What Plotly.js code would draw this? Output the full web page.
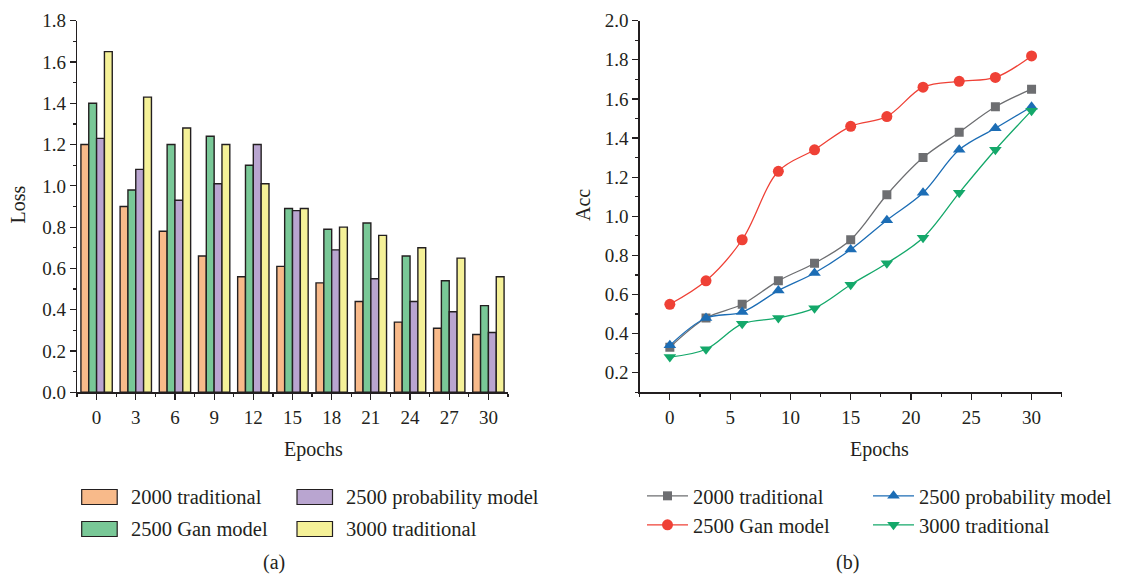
<!DOCTYPE html>
<html>
<head>
<meta charset="utf-8">
<script src="https://cdn.plot.ly/plotly-3.0.1.min.js"></script>
<style>html,body{margin:0;padding:0;background:#fff;}#chart{width:1132px;height:576px;}</style>
</head>
<body>
<div id="chart"></div>
<script>
// ---- data ----
const epochs = [0, 3, 6, 9, 12, 15, 18, 21, 24, 27, 30];
const seriesNames = ["2000 traditional", "2500 Gan model", "2500 probability model", "3000 traditional"];
// (a) Loss
const loss2000Trad = [1.20, 0.90, 0.78, 0.66, 0.56, 0.61, 0.53, 0.44, 0.34, 0.31, 0.28];
const loss2500Gan  = [1.40, 0.98, 1.20, 1.24, 1.10, 0.89, 0.79, 0.82, 0.66, 0.54, 0.42];
const loss2500Prob = [1.23, 1.08, 0.93, 1.01, 1.20, 0.88, 0.69, 0.55, 0.44, 0.39, 0.29];
const loss3000Trad = [1.65, 1.43, 1.28, 1.20, 1.01, 0.89, 0.80, 0.76, 0.70, 0.65, 0.56];
// (b) Acc
const acc2000Trad = [0.33, 0.48, 0.55, 0.67, 0.76, 0.88, 1.11, 1.30, 1.43, 1.56, 1.65];
const acc2500Gan  = [0.55, 0.67, 0.88, 1.23, 1.34, 1.46, 1.51, 1.66, 1.69, 1.71, 1.82];
const acc2500Prob = [0.34, 0.48, 0.51, 0.62, 0.71, 0.83, 0.98, 1.12, 1.34, 1.45, 1.56];
const acc3000Trad = [0.28, 0.32, 0.45, 0.48, 0.53, 0.65, 0.76, 0.89, 1.12, 1.34, 1.54];
const lossTicks = [0, 3, 6, 9, 12, 15, 18, 21, 24, 27, 30];
const accTicks = [0, 5, 10, 15, 20, 25, 30];

// ---- style ----
const W = 1132, H = 576;
const FONT = "Liberation Serif, Times New Roman, serif";
const TXT = "#231f20";
const barColors = ["#f8ba8a", "#79c897", "#b9a5d0", "#f5f198"];
const lineColors = ["#6d6e71", "#ef4136", "#1c6db5", "#14a86a"];
const symbols = ["square", "circle", "triangle-up", "triangle-down"];
const msizes = [9, 11, 11, 11];
const px = v => v / W;
const py = v => 1 - v / H;

const lossData = [loss2000Trad, loss2500Gan, loss2500Prob, loss3000Trad];
const accData = [acc2000Trad, acc2500Gan, acc2500Prob, acc3000Trad];
const traces = [];
lossData.forEach((vals, i) => {
  traces.push({
    type: "bar", x: epochs, y: vals, name: seriesNames[i], xaxis: "x", yaxis: "y",
    showlegend: false,
    marker: {color: barColors[i], line: {color: "#231f20", width: 1.4}}
  });
});
const legendIds = ["legend", "legend3", "legend2", "legend4"];
accData.forEach((vals, i) => {
  traces.push({
    type: "scatter", mode: "lines+markers", x: epochs, y: vals, name: seriesNames[i],
    xaxis: "x2", yaxis: "y2", legend: legendIds[i],
    line: {color: lineColors[i], width: 1.3, shape: "spline", smoothing: 1},
    marker: {color: lineColors[i], symbol: symbols[i], size: msizes[i]}
  });
});

const axisCommon = {
  showline: true, linecolor: "#231f20", linewidth: 1.3, mirror: false,
  showgrid: false, zeroline: false, ticks: "outside", ticklen: 6, tickwidth: 1.2,
  tickcolor: "#231f20", tickfont: {family: FONT, size: 19, color: TXT}
};
const minorCommon = {ticks: "outside", ticklen: 3, tickwidth: 1.2, tickcolor: "#231f20", showgrid: false};

const yDom = [py(392.3), py(20.7)];
const layout = {
  width: W, height: H, margin: {l: 0, r: 0, t: 0, b: 0},
  paper_bgcolor: "#fff", plot_bgcolor: "#fff",
  font: {family: FONT, color: TXT},
  barmode: "group", bargap: 0.2, bargroupgap: 0,
  xaxis: Object.assign({}, axisCommon, {
    domain: [px(77), px(508)], range: [-1.5, 31.5], tickmode: "array", tickvals: lossTicks,
    ticklabelstandoff: 2, anchor: "y",
    minor: Object.assign({}, minorCommon, {tickmode: "linear", tick0: -1.5, dtick: 3})
  }),
  yaxis: Object.assign({}, axisCommon, {
    domain: yDom, range: [0, 1.8], tick0: 0, dtick: 0.2, tickformat: ".1f",
    ticklabelstandoff: 0, anchor: "x",
    minor: Object.assign({}, minorCommon, {tickmode: "linear", tick0: 0, dtick: 0.1})
  }),
  xaxis2: Object.assign({}, axisCommon, {
    domain: [px(639.7), px(1061.7)], range: [-2.5, 32.5], tickmode: "array", tickvals: accTicks,
    ticklabelstandoff: 2, anchor: "y2",
    minor: Object.assign({}, minorCommon, {tickmode: "linear", tick0: -2.5, dtick: 5})
  }),
  yaxis2: Object.assign({}, axisCommon, {
    domain: yDom, range: [0.1, 2.0], tick0: 0, dtick: 0.2, tickformat: ".1f",
    ticklabelstandoff: 0, anchor: "x2",
    minor: Object.assign({}, minorCommon, {tickmode: "linear", tick0: 0.1, dtick: 0.1})
  }),
  annotations: [],
  shapes: []
};

// axis titles and panel labels
const ann = (text, x, y, extra) => Object.assign({
  text: text, xref: "paper", yref: "paper", x: px(x), y: py(y), showarrow: false,
  xanchor: "center", yanchor: "middle", font: {family: FONT, size: 20, color: TXT}
}, extra || {});
layout.annotations.push(ann("Loss", 17.5, 205, {textangle: -90}));
layout.annotations.push(ann("Epochs", 313.5, 449));
layout.annotations.push(ann("Acc", 583, 205, {textangle: -90}));
layout.annotations.push(ann("Epochs", 879, 449));
layout.annotations.push(ann("(a)", 274, 562));
layout.annotations.push(ann("(b)", 847, 562));

// legend (a): swatches + labels
const legA = [
  {i: 0, sx: 81.7, tx: 129, cy: 497},
  {i: 1, sx: 81.7, tx: 129, cy: 529},
  {i: 2, sx: 297, tx: 344, cy: 497},
  {i: 3, sx: 297, tx: 344, cy: 529}
];
legA.forEach(e => {
  layout.shapes.push({type: "rect", xref: "paper", yref: "paper",
    x0: px(e.sx), x1: px(e.sx + 35.5), y0: py(e.cy - 7.5), y1: py(e.cy + 7.5),
    fillcolor: barColors[e.i], line: {color: "#231f20", width: 1.2}});
  layout.annotations.push(ann(seriesNames[e.i], e.tx, e.cy, {xanchor: "left", font: {family: FONT, size: 20.5, color: TXT}}));
});

// legend (b): one Plotly legend per entry
const legFont = {family: FONT, size: 20.5, color: TXT};
const legPos = {legend: [642, 496], legend3: [642, 525], legend2: [868, 496], legend4: [868, 525]};
Object.keys(legPos).forEach(k => {
  layout[k] = {x: px(legPos[k][0]), y: py(legPos[k][1]), xanchor: "left", yanchor: "middle",
    xref: "paper", yref: "paper", bgcolor: "rgba(0,0,0,0)", borderwidth: 0,
    font: legFont, itemwidth: 41, orientation: "v"};
});

Plotly.newPlot("chart", traces, layout, {staticPlot: true, displayModeBar: false});
</script>
</body>
</html>
